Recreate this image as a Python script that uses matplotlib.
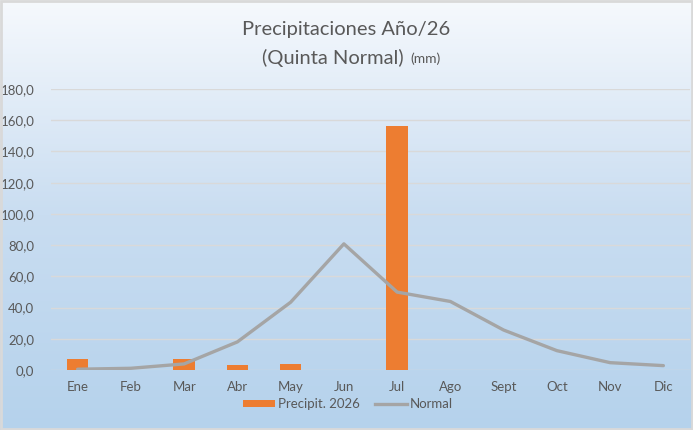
import numpy as np
import matplotlib
matplotlib.use("Agg")
import matplotlib.pyplot as plt
from matplotlib.patches import Patch, Rectangle
from matplotlib.lines import Line2D

# ── Data ──
months = ["Ene", "Feb", "Mar", "Abr", "May", "Jun",
          "Jul", "Ago", "Sept", "Oct", "Nov", "Dic"]
precip_2026 = [7.0, 0.0, 7.3, 3.2, 4.1, 0.0, 156.3, 0.0, 0.0, 0.0, 0.0, 0.0]
normal = [0.5, 1.1, 3.9, 18.0, 43.4, 80.8, 49.9, 43.9, 25.6, 12.4, 4.7, 2.8]
y_ticks = np.arange(0, 181, 20)
y_labels = [f"{v:.1f}".replace(".", ",") for v in y_ticks]

TEXT = "#595959"
plt.rcParams["font.family"] = ["Lato", "DejaVu Sans"]

fig = plt.figure(figsize=(6.93, 4.30), dpi=100)

# ── Gradient background ──
bg = fig.add_axes([0, 0, 1, 1], zorder=-10)
top = np.array([0xf6, 0xf9, 0xfd]) / 255
mid = np.array([0xc9, 0xdd, 0xf1]) / 255
bot = np.array([0xb5, 0xd2, 0xec]) / 255
t = np.linspace(0, 1, 256)[:, None]
grad = np.where(t < 0.5, top + (mid - top) * (t / 0.5),
                mid + (bot - mid) * ((t - 0.5) / 0.5))
bg.imshow(grad[:, None, :].repeat(2, axis=1), aspect="auto",
          extent=[0, 1, 0, 1], origin="upper")
bg.axis("off")
fig.patches.append(Rectangle((0.001, 0.002), 0.997, 0.995, transform=fig.transFigure,
                             fill=False, edgecolor="#d9d9d9", linewidth=2))

# ── Main axes ──
ax = fig.add_axes([51 / 693, 1 - 370 / 430, 639 / 693, 281 / 430])
ax.set_facecolor("none")
x = np.arange(len(months))
ax.bar(x, precip_2026, width=0.4, color="#ed7d31", zorder=3)
ax.plot(x, normal, color="#a5a5a5", linewidth=2.4, solid_capstyle="round", zorder=4)

ax.set_xlim(-0.5, len(months) - 0.5)
ax.set_ylim(0, 180)
ax.set_yticks(y_ticks)
ax.set_yticklabels(y_labels)
ax.set_xticks(x)
ax.set_xticklabels(months)
ax.tick_params(axis="both", length=0, colors=TEXT, labelsize=9.5)
ax.tick_params(axis="y", pad=12)
ax.tick_params(axis="x", pad=8)
ax.grid(axis="y", color="#d9d9d9", linewidth=1, zorder=0)
for s in ax.spines.values():
    s.set_visible(False)

# ── Title ──
fig.text(0.5, 1 - 30 / 430, "Precipitaciones Año/26", ha="center", va="center",
         fontsize=14.5, color=TEXT)
fig.text(404 / 693, 1 - 58 / 430, "(Quinta Normal)", ha="right", va="center",
         fontsize=14.5, color=TEXT)
fig.text(410 / 693, 1 - 59 / 430, "(mm)", ha="left", va="center",
         fontsize=10, color=TEXT)

# ── Legend ──
handles = [Patch(facecolor="#ed7d31", edgecolor="none"),
           Line2D([0], [0], color="#a5a5a5", linewidth=2.4)]
fig.legend(handles, ["Precipit. 2026", "Normal"], loc="center",
           bbox_to_anchor=(348 / 693, 1 - 404 / 430), ncol=2, frameon=False,
           fontsize=9.5, labelcolor=TEXT, handlelength=2.4, handleheight=0.5,
           handletextpad=0.2, columnspacing=1.2)

fig.savefig("out.png", dpi=100)
